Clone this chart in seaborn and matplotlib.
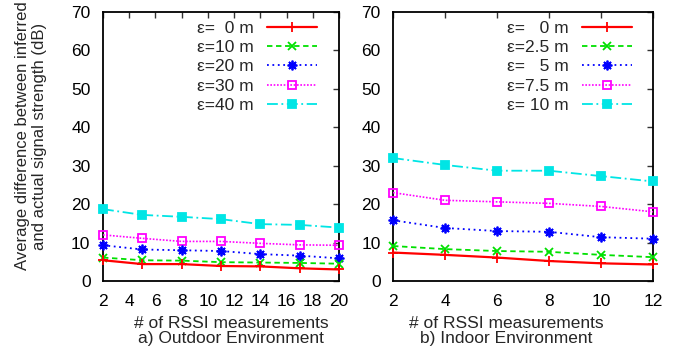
import matplotlib
matplotlib.use("Agg")
import matplotlib.pyplot as plt
import seaborn as sns
import pandas as pd

# ---- data ----
out_x = [2, 5, 8, 11, 14, 17, 20]
out_labels = ["ε=  0 m", "ε=10 m", "ε=20 m", "ε=30 m", "ε=40 m"]
out_e0 = [5.4, 4.4, 4.4, 3.9, 3.8, 3.3, 3.0]
out_e10 = [6.1, 5.4, 5.3, 4.9, 4.8, 4.7, 4.5]
out_e20 = [9.3, 8.2, 8.0, 7.8, 7.0, 6.6, 5.9]
out_e30 = [12.0, 11.1, 10.3, 10.3, 9.8, 9.4, 9.3]
out_e40 = [18.7, 17.2, 16.7, 16.1, 14.8, 14.6, 13.9]

in_x = [2, 4, 6, 8, 10, 12]
in_labels = ["ε=   0 m", "ε=2.5 m", "ε=   5 m", "ε=7.5 m", "ε= 10 m"]
in_e0 = [7.4, 6.8, 6.1, 5.2, 4.6, 4.3]
in_e25 = [9.1, 8.3, 7.8, 7.6, 6.8, 6.2]
in_e5 = [15.8, 13.8, 13.0, 12.8, 11.4, 11.0]
in_e75 = [23.0, 21.0, 20.6, 20.2, 19.4, 18.0]
in_e10 = [32.0, 30.2, 28.7, 28.7, 27.3, 25.9]

out_series = [out_e0, out_e10, out_e20, out_e30, out_e40]
in_series = [in_e0, in_e25, in_e5, in_e75, in_e10]

xlabel_left = "# of RSSI measurements\na) Outdoor Environment"
xlabel_right = "# of RSSI measurements\nb) Indoor Environment"
ylabel = "Average difference between inferred\nand actual signal strength (dB)"

# ---- styles ----
colors = ["#ff0000", "#00e000", "#0000ff", "#ff00ff", "#00e5e5"]
lstyles = ["-", (0, (3, 2)), (0, (1, 2)), (0, (1, 1)), (0, (6, 2, 1, 2))]
markers = ["+", "x", (8, 2, 0), "s", "s"]
msizes = [7, 6, 7, 6, 5.5]
mfcs = [None, None, None, "none", None]
lws = [1.6, 1.3, 1.3, 1.2, 1.3]

FS = 12.5
W, H = 694, 356

sns.set_theme(style="white")
plt.rcParams["font.family"] = ["Liberation Sans", "DejaVu Sans"]
plt.rcParams["font.size"] = FS

fig = plt.figure(figsize=(W / 100, H / 100), dpi=100)
ax1 = fig.add_axes([103 / W, 75 / H, 236 / W, 269 / H])
ax2 = fig.add_axes([393 / W, 75 / H, 260 / W, 269 / H])


def draw(ax, xs, series, labels, xticks, anchor):
    for i, (ys, lab) in enumerate(zip(series, labels)):
        df = pd.DataFrame({"x": xs, "y": ys})
        kw = dict(markersize=msizes[i], markeredgewidth=1.3)
        if mfcs[i] is not None:
            kw["markerfacecolor"] = mfcs[i]
        sns.lineplot(data=df, x="x", y="y", ax=ax, color=colors[i], linestyle=lstyles[i],
                     marker=markers[i], markeredgecolor=colors[i], lw=lws[i],
                     label=lab, clip_on=False, zorder=3 + (5 - i) * 0.1, **kw)
    ax.set_xlim(xticks[0], xticks[-1])
    ax.set_ylim(0, 70)
    ax.set_xticks(xticks)
    ax.set_yticks(range(0, 71, 10))
    ax.set_xlabel("")
    ax.set_ylabel("")
    ax.tick_params(direction="in", length=4.5, width=1, top=True, right=True,
                   labelsize=FS, colors="#333333", labelcolor="black")
    ax.tick_params(axis="y", pad=9)
    ax.tick_params(axis="x", pad=9)
    for s in ax.spines.values():
        s.set_linewidth(1.3)
        s.set_color("black")
        s.set_visible(True)
    leg = ax.legend(loc="upper right", bbox_to_anchor=anchor, borderaxespad=0,
                    markerfirst=False, frameon=False, handlelength=3.27,
                    handletextpad=0.85, labelspacing=0.35, fontsize=11)
    return leg


leg1 = draw(ax1, out_x, out_series, out_labels, list(range(2, 21, 2)), (0.932, 0.989))
leg2 = draw(ax2, in_x, in_series, in_labels, list(range(2, 13, 2)), (0.942, 0.989))

# right-align legend labels (gnuplot style)
fig.canvas.draw()
for leg in (leg1, leg2):
    texts = leg.get_texts()
    exts = [t.get_window_extent() for t in texts]
    right = max(e.x1 for e in exts)
    for t, e in zip(texts, exts):
        fig.text(right / W, (e.y0 + e.y1) / 2 / H, t.get_text(), ha="right",
                 va="center", fontsize=FS)
        t.set_visible(False)

fig.text(231 / W, 1 - 331 / H, xlabel_left, ha="center", va="center",
         fontsize=FS, linespacing=1.0)
fig.text(506 / W, 1 - 331 / H, xlabel_right, ha="center", va="center",
         fontsize=FS, linespacing=1.0)
fig.text(31 / W, 1 - 136 / H, ylabel, ha="center", va="center", rotation=90,
         fontsize=12, linespacing=1.15, multialignment="center")

fig.savefig("out.png", dpi=100)
